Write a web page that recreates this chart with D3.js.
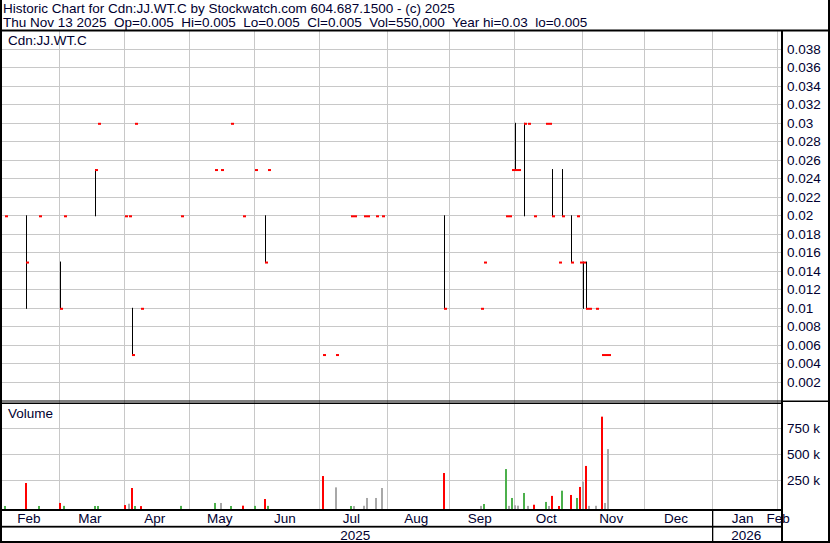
<!DOCTYPE html>
<html><head><meta charset="utf-8">
<script src="https://cdn.jsdelivr.net/npm/d3@7"></script>
<style>
html,body{margin:0;padding:0;background:#fff;}
svg{display:block;font-family:"Liberation Sans", Arial, sans-serif;}
text{fill:#000030;font-size:13.5px;white-space:pre;}
</style></head><body>
<svg id="c" width="830" height="543"></svg>
<script>
// ---------- data ----------
const titleLine1 = "Historic Chart for Cdn:JJ.WT.C by Stockwatch.com 604.687.1500 - (c) 2025";
const titleLine2 = "Thu Nov 13 2025  Op=0.005  Hi=0.005  Lo=0.005  Cl=0.005  Vol=550,000  Year hi=0.03  lo=0.005";
const symbolLabel = "Cdn:JJ.WT.C";
const volumeLabel = "Volume";

const dates = ["2025-02-04","2025-02-13","2025-02-20","2025-03-03","2025-03-04","2025-03-18","2025-03-19",
  "2025-04-01","2025-04-02","2025-04-03","2025-04-04","2025-04-08","2025-04-28",
  "2025-05-13","2025-05-15","2025-05-21","2025-05-27","2025-06-02","2025-06-05","2025-06-06",
  "2025-07-03","2025-07-09","2025-07-16","2025-07-17","2025-07-22","2025-07-23","2025-07-28","2025-07-30",
  "2025-08-28","2025-09-16","2025-09-17","2025-09-26","2025-09-29","2025-09-30",
  "2025-10-01","2025-10-02","2025-10-06","2025-10-07","2025-10-09","2025-10-16","2025-10-17","2025-10-20",
  "2025-10-22","2025-10-23","2025-10-28","2025-10-30","2025-10-31",
  "2025-11-03","2025-11-04","2025-11-05","2025-11-07","2025-11-11","2025-11-12","2025-11-13"];
const highs = [0.02,0.02,0.02,0.015,0.02,0.025,0.03,
  0.02,0.02,0.01,0.03,0.01,0.02,
  0.025,0.025,0.03,0.02,0.025,0.02,0.025,
  0.005,0.005,0.02,0.02,0.02,0.02,0.02,0.02,
  0.02,0.01,0.015,0.02,0.02,0.025,
  0.03,0.025,0.03,0.03,0.02,0.03,0.03,0.025,
  0.015,0.025,0.02,0.02,0.015,
  0.015,0.015,0.01,0.01,0.005,0.005,0.005];
const lows = [0.02,0.01,0.02,0.01,0.02,0.02,0.03,
  0.02,0.02,0.005,0.03,0.01,0.02,
  0.025,0.025,0.03,0.02,0.025,0.015,0.025,
  0.005,0.005,0.02,0.02,0.02,0.02,0.02,0.02,
  0.01,0.01,0.015,0.02,0.02,0.025,
  0.025,0.025,0.02,0.03,0.02,0.03,0.03,0.02,
  0.015,0.02,0.015,0.02,0.015,
  0.01,0.01,0.01,0.01,0.005,0.005,0.005];
const closes = [0.02,0.015,0.02,0.01,0.02,0.025,0.03,
  0.02,0.02,0.005,0.03,0.01,0.02,
  0.025,0.025,0.03,0.02,0.025,0.015,0.025,
  0.005,0.005,0.02,0.02,0.02,0.02,0.02,0.02,
  0.01,0.01,0.015,0.02,0.02,0.025,
  0.025,0.025,0.03,0.03,0.02,0.03,0.03,0.02,
  0.015,0.02,0.015,0.02,0.015,
  0.015,0.01,0.01,0.01,0.005,0.005,0.005];
const volumes = [3000,224000,3000,32000,4000,3000,3000,
  12000,25000,176000,3000,2000,4000,
  32000,32000,3000,6000,4000,70000,4000,
  291000,182000,3000,2000,5000,80000,80000,176000,
  320000,4000,22000,358000,4000,80000,
  10000,6000,128000,4000,15000,42000,3000,100000,
  3000,150000,109000,80000,186000,
  237000,388000,4000,5000,862000,32000,550000];

const priceTicks = [0.002,0.004,0.006,0.008,0.01,0.012,0.014,0.016,0.018,0.02,0.022,0.024,0.026,0.028,0.03,0.032,0.034,0.036,0.038];
const priceTickLabels = ["0.002","0.004","0.006","0.008","0.01","0.012","0.014","0.016","0.018","0.02","0.022","0.024","0.026","0.028","0.03","0.032","0.034","0.036","0.038"];
const volumeTicks = [250000,500000,750000];
const volumeTickLabels = ["250 k","500 k","750 k"];
const monthLabels = ["Feb","Mar","Apr","May","Jun","Jul","Aug","Sep","Oct","Nov","Dec","Jan","Feb"];
const monthStarts = ["2025-02","2025-03","2025-04","2025-05","2025-06","2025-07","2025-08","2025-09","2025-10","2025-11","2025-12","2026-01","2026-02"];
const yearLabels = ["2025","2026"];
const holidays = ["2025-02-17","2025-04-18","2025-05-19","2025-07-01","2025-08-04","2025-09-01","2025-10-13","2025-12-25","2026-01-01"];

// ---------- trading-day calendar ----------
const fmt = d3.utcFormat("%Y-%m-%d");
const tradingDays = d3.utcDays(new Date(Date.UTC(2025,1,4)), new Date(Date.UTC(2026,1,28)))
  .filter(d => d.getUTCDay() !== 0 && d.getUTCDay() !== 6 && !holidays.includes(fmt(d)))
  .map(fmt);
const dayIndex = new Map(tradingDays.map((d,i)=>[d,i]));

// ---------- layout ----------
const L = 2, R = 781, priceTop = 31, volBot = 509;
const svg = d3.select("#c");
svg.append("rect").attr("width",830).attr("height",543).attr("fill","#fff");

const x = d3.scaleLinear().domain([0,195]).range([4.8,608]);
const y = d3.scaleLinear().domain([0,0.04]).range([400.3,30.3]);
const yv = d3.scaleLinear().domain([0,1000000]).range([506.3,402.3]);

const rows = dates.map((d,i)=>({idx:dayIndex.get(d),h:highs[i],l:lows[i],c:closes[i],v:volumes[i],
  dir: i===0 ? 1 : Math.sign(closes[i]-closes[i-1])}));

// month boundaries
const months = monthStarts.map((m,k)=>{
  const first = tradingDays.findIndex(d=>d.startsWith(m));
  return {label:monthLabels[k], first, bx: x(first-0.5)};
});

const grid = svg.append("g").attr("stroke","#c8c8c8").attr("stroke-width",1);
grid.selectAll(".hp").data(priceTicks).join("line")
  .attr("x1",L).attr("x2",R).attr("y1",d=>Math.round(y(d))+0.5).attr("y2",d=>Math.round(y(d))+0.5);
grid.selectAll(".hv").data(volumeTicks).join("line")
  .attr("x1",L).attr("x2",R).attr("y1",d=>Math.round(yv(d))+0.5).attr("y2",d=>Math.round(yv(d))+0.5);
grid.selectAll(".vm").data(months.filter(m=>m.bx>6)).join("line")
  .attr("x1",d=>Math.round(d.bx)+0.5).attr("x2",d=>Math.round(d.bx)+0.5)
  .attr("y1",priceTop).attr("y2",volBot);

// price hi-lo lines
svg.append("g").selectAll("line").data(rows.filter(r=>r.h!==r.l)).join("line")
  .attr("x1",r=>Math.round(x(r.idx))+0.5).attr("x2",r=>Math.round(x(r.idx))+0.5)
  .attr("y1",r=>y(r.h)).attr("y2",r=>y(r.l)+1)
  .attr("stroke","#000").attr("stroke-width",1);
// close ticks
svg.append("g").selectAll("rect").data(rows).join("rect")
  .attr("x",r=>Math.round(x(r.idx))).attr("y",r=>y(r.c)).attr("width",3).attr("height",2)
  .attr("fill","#ff0000");

// volume bars
const volColor = d => d>0 ? "#4cb04c" : d<0 ? "#ff0000" : "#a8a8a8";
svg.append("g").selectAll("rect").data(rows).join("rect")
  .attr("x",r=>Math.round(x(r.idx))-1).attr("width",2)
  .attr("y",r=>yv(r.v)).attr("height",r=>volBot-yv(r.v))
  .attr("fill",r=>volColor(r.dir));

// header
svg.append("text").attr("x",3).attr("y",13).text(titleLine1);
svg.append("text").attr("x",3).attr("y",27).text(titleLine2);
svg.append("text").attr("x",8).attr("y",45).text(symbolLabel);
svg.append("text").attr("x",8).attr("y",418).text(volumeLabel);

// axis labels
svg.append("g").selectAll("text").data(priceTicks).join("text")
  .attr("x",787).attr("y",d=>y(d)+5).text((d,i)=>priceTickLabels[i]);
svg.append("g").selectAll("text").data(volumeTicks).join("text")
  .attr("x",787).attr("y",d=>yv(d)+5).text((d,i)=>volumeTickLabels[i]);

// month labels
svg.append("g").selectAll("text").data(months).join("text")
  .attr("text-anchor","middle").attr("y",523)
  .attr("x",(m,k)=>{
    if (k===months.length-1) return m.bx+1.5;
    const left = k===0 ? L : m.bx;
    return (left + months[k+1].bx)/2 - 1.5;
  })
  .text(m=>m.label);
const janX = months[11].bx;
svg.append("text").attr("text-anchor","middle").attr("x",(L+janX)/2-1.5).attr("y",540).text(yearLabels[0]);
svg.append("text").attr("text-anchor","middle").attr("x",(janX+R)/2).attr("y",540).text(yearLabels[1]);

// frame lines
const frame = svg.append("g").attr("fill","#000");
frame.append("rect").attr("x",0).attr("y",29.5).attr("width",830).attr("height",2);
frame.append("rect").attr("x",0).attr("y",0).attr("width",2).attr("height",543);
frame.append("rect").attr("x",828).attr("y",0).attr("width",2).attr("height",543);
frame.append("rect").attr("x",781).attr("y",30).attr("width",2).attr("height",513);
frame.append("rect").attr("x",0).attr("y",400.5).attr("width",781).attr("height",1);
frame.append("rect").attr("x",0).attr("y",402.5).attr("width",781).attr("height",1.5);
frame.append("rect").attr("x",781).attr("y",400.5).attr("width",49).attr("height",1.5);
frame.append("rect").attr("x",0).attr("y",509).attr("width",781).attr("height",2);
frame.append("rect").attr("x",0).attr("y",525.8).attr("width",781).attr("height",1.8);
frame.append("rect").attr("x",0).attr("y",541).attr("width",830).attr("height",2);
frame.append("rect").attr("x",Math.round(janX)).attr("y",510).attr("width",1.3).attr("height",32);
</script>
</body></html>
